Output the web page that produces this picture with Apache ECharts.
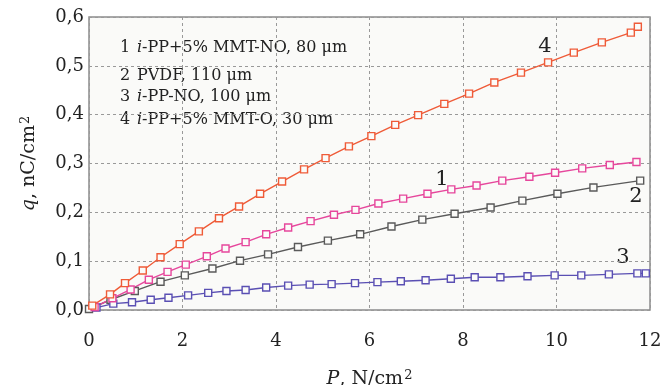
<!DOCTYPE html>
<html>
<head>
<meta charset="utf-8">
<script src="https://cdn.jsdelivr.net/npm/echarts@6/dist/echarts.min.js"></script>
<style>
html,body{margin:0;padding:0;background:#fff;}
#c{width:664px;height:385px;}
</style>
</head>
<body>
<div id="c"></div>
<script>
// ---- data ----
const xTickLabels = ['0', '2', '4', '6', '8', '10', '12'];
const yTickLabels = ['0,0', '0,1', '0,2', '0,3', '0,4', '0,5', '0,6'];

const legendNumbers = ['1', '2', '3', '4'];
const legendItalic = ['i', '', 'i', 'i'];
const legendRest = ['-PP+5% MMT-NO, 80 μm', 'PVDF, 110 μm', '-PP-NO, 100 μm', '-PP+5% MMT-O, 30 μm'];

// series 1: i-PP+5% MMT-NO, 80 μm
const s1x = [0.12, 0.50, 0.89, 1.28, 1.68, 2.07, 2.52, 2.92, 3.35, 3.79, 4.26, 4.74, 5.24, 5.70, 6.19, 6.72, 7.24, 7.75, 8.29, 8.84, 9.42, 9.97, 10.55, 11.14, 11.71];
const s1y = [0.006, 0.024, 0.042, 0.062, 0.078, 0.093, 0.110, 0.126, 0.139, 0.155, 0.169, 0.182, 0.195, 0.205, 0.218, 0.228, 0.238, 0.247, 0.255, 0.265, 0.273, 0.281, 0.290, 0.297, 0.303];
// series 2: PVDF, 110 μm
const s2x = [0, 0.46, 0.98, 1.53, 2.05, 2.64, 3.23, 3.83, 4.47, 5.11, 5.80, 6.47, 7.13, 7.82, 8.59, 9.27, 10.02, 10.79, 11.79];
const s2y = [0.002, 0.021, 0.039, 0.058, 0.071, 0.085, 0.101, 0.114, 0.129, 0.142, 0.155, 0.171, 0.185, 0.197, 0.210, 0.224, 0.238, 0.251, 0.265];
// series 3: i-PP-NO, 100 μm
const s3x = [0.16, 0.52, 0.92, 1.32, 1.70, 2.12, 2.55, 2.94, 3.35, 3.79, 4.26, 4.72, 5.19, 5.69, 6.17, 6.67, 7.20, 7.74, 8.25, 8.80, 9.38, 9.96, 10.53, 11.12, 11.73, 11.91];
const s3y = [0.005, 0.013, 0.016, 0.021, 0.025, 0.030, 0.035, 0.039, 0.041, 0.046, 0.050, 0.052, 0.053, 0.055, 0.057, 0.059, 0.061, 0.064, 0.067, 0.067, 0.069, 0.071, 0.071, 0.073, 0.075, 0.075];
// series 4: i-PP+5% MMT-O, 30 μm
const s4x = [0.07, 0.45, 0.77, 1.15, 1.53, 1.94, 2.35, 2.78, 3.21, 3.66, 4.13, 4.60, 5.06, 5.56, 6.04, 6.55, 7.04, 7.60, 8.13, 8.67, 9.24, 9.82, 10.37, 10.97, 11.59, 11.74];
const s4y = [0.009, 0.032, 0.055, 0.081, 0.108, 0.135, 0.161, 0.188, 0.212, 0.238, 0.263, 0.288, 0.311, 0.335, 0.356, 0.379, 0.399, 0.422, 0.443, 0.466, 0.486, 0.507, 0.527, 0.548, 0.568, 0.580];

// ---- build ----
const FONT = 'DejaVu Serif';
const zip = (xs, ys) => xs.map((x, i) => [x, ys[i]]);

function mkSeries(name, xs, ys, color) {
  return {
    name: name,
    type: 'line',
    data: zip(xs, ys),
    symbol: 'rect',
    symbolSize: 7,
    showSymbol: true,
    lineStyle: { color: color, width: 1.4 },
    itemStyle: { color: '#fbfbf9', borderColor: color, borderWidth: 1.4 },
    emphasis: { disabled: true },
    animation: false
  };
}

const chart = echarts.init(document.getElementById('c'), null, { renderer: 'canvas' });

const legendGraphics = [];
const legendY = [49, 76.5, 98, 121];
for (let i = 0; i < legendNumbers.length; i++) {
  legendGraphics.push({
    type: 'text', left: 120, top: legendY[i] - 9,
    style: { text: legendNumbers[i], font: '16px "' + FONT + '"', fill: '#222' }
  });
  legendGraphics.push({
    type: 'text', left: 137, top: legendY[i] - 9,
    style: {
      text: (legendItalic[i] ? '{it|' + legendItalic[i] + '}' : '') + '{r|' + legendRest[i] + '}',
      rich: {
        it: { fontFamily: FONT, fontSize: 16, fontStyle: 'italic', fill: '#222' },
        r: { fontFamily: FONT, fontSize: 16, fill: '#222' }
      }
    }
  });
}

const curveLabels = [
  { t: '4', x: 545, y: 47 },
  { t: '1', x: 442, y: 180 },
  { t: '2', x: 636, y: 197 },
  { t: '3', x: 623, y: 258 }
];
curveLabels.forEach(c => {
  legendGraphics.push({
    type: 'text', x: c.x, y: c.y,
    style: { text: c.t, font: '21px "' + FONT + '"', fill: '#222', align: 'center', verticalAlign: 'middle' }
  });
});

const nameRich = {
  i: { fontFamily: FONT, fontSize: 19, fontStyle: 'italic', color: '#222', verticalAlign: 'bottom', lineHeight: 20, padding: [15, 0, 0, 0] },
  r: { fontFamily: FONT, fontSize: 19, color: '#222', verticalAlign: 'bottom', lineHeight: 20, padding: [15, 0, 0, 0] },
  s: { fontFamily: FONT, fontSize: 13, color: '#222', verticalAlign: 'top', lineHeight: 13, padding: [0, 0, 0, 1] }
};

chart.setOption({
  animation: false,
  backgroundColor: '#ffffff',
  grid: {
    left: 89, right: 14, top: 17, bottom: 75,
    outerBoundsMode: 'none',
    containLabel: false,
    show: true, backgroundColor: '#fafaf8', borderColor: '#8c8c8c', borderWidth: 1.5
  },
  xAxis: {
    type: 'value', min: 0, max: 12, interval: 2,
    axisLine: { show: false },
    axisTick: { show: false },
    axisLabel: {
      margin: 22, fontFamily: FONT, fontSize: 18, color: '#222',
      formatter: v => xTickLabels[Math.round(v / 2)]
    },
    splitLine: { show: true, lineStyle: { color: '#999', width: 1, type: [3, 3] } },
    name: '{i|P}{r|, N/cm}{s|2}',
    nameLocation: 'middle',
    nameGap: 55,
    nameTextStyle: { rich: nameRich }
  },
  yAxis: {
    type: 'value', min: 0, max: 0.6, interval: 0.1,
    axisLine: { show: false },
    axisTick: { show: false },
    axisLabel: {
      margin: 5, fontFamily: FONT, fontSize: 18, color: '#222',
      formatter: v => yTickLabels[Math.round(v * 10)]
    },
    splitLine: { show: true, lineStyle: { color: '#999', width: 1, type: [3, 3] } },
    name: '{i|q}{r|, nC/cm}{s|2}',
    nameLocation: 'middle',
    nameRotate: 90,
    nameGap: 50,
    nameTextStyle: { rich: nameRich }
  },
  series: [
    mkSeries('2 PVDF, 110 μm', s2x, s2y, '#5a5a5a'),
    mkSeries('3 i-PP-NO, 100 μm', s3x, s3y, '#5a4fb3'),
    mkSeries('1 i-PP+5% MMT-NO, 80 μm', s1x, s1y, '#e6479c'),
    mkSeries('4 i-PP+5% MMT-O, 30 μm', s4x, s4y, '#ef5b38')
  ],
  graphic: legendGraphics
});
</script>
</body>
</html>
